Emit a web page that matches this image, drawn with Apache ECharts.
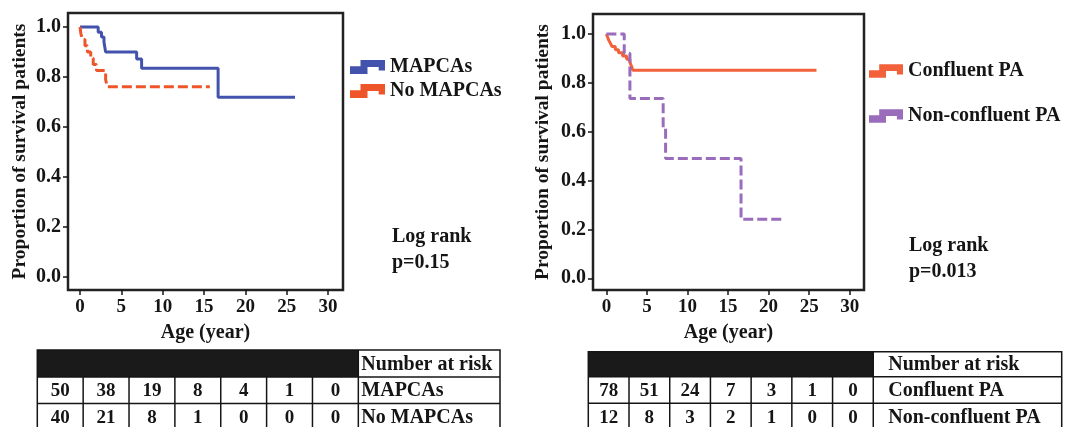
<!DOCTYPE html>
<html><head><meta charset="utf-8">
<script src="https://cdn.jsdelivr.net/npm/echarts@6/dist/echarts.min.js"></script>
<style>html,body{margin:0;padding:0;background:#fff}#c{width:1065px;height:427px}</style>
</head><body><div id="c"></div>
<script>
// ---- data ----
const xTicks = [0, 5, 10, 15, 20, 25, 30];
const yTicks = [0, 0.2, 0.4, 0.6, 0.8, 1.0];
const mapcasT = [0, 2.2, 2.6, 2.9, 3.1, 6.85, 7.45, 16.7, 26.0];
const mapcasS = [1.0, 0.979, 0.96, 0.94, 0.90, 0.872, 0.835, 0.719, 0.719];
const noMapcasT = [0, 0.1, 0.3, 0.6, 0.9, 1.3, 1.6, 2.0, 3.1, 3.3, 15.7];
const noMapcasS = [1.0, 0.975, 0.95, 0.925, 0.90, 0.875, 0.85, 0.826, 0.79, 0.761, 0.761];
const confT = [0, 0.15, 0.3, 0.5, 0.7, 1.1, 1.5, 2.0, 2.5, 2.9, 3.1, 3.25, 25.9];
const confS = [1.0, 0.987, 0.974, 0.962, 0.949, 0.936, 0.923, 0.910, 0.897, 0.884, 0.868, 0.852, 0.852];
const nonConfT = [0, 2.2, 2.9, 7.0, 7.3, 16.6, 22.0];
const nonConfS = [1.0, 0.921, 0.736, 0.613, 0.490, 0.242, 0.242];
const leftNames = ['MAPCAs', 'No MAPCAs'];
const rightNames = ['Confluent PA', 'Non-confluent PA'];
const riskMAPCAs = [50, 38, 19, 8, 4, 1, 0];
const riskNoMAPCAs = [40, 21, 8, 1, 0, 0, 0];
const riskConf = [78, 51, 24, 7, 3, 1, 0];
const riskNonConf = [12, 8, 3, 2, 1, 0, 0];
const riskHeader = 'Number at risk';
const leftStat = ['Log rank', 'p=0.15'];
const rightStat = ['Log rank', 'p=0.013'];
const xTitle = 'Age (year)';
const yTitle = 'Proportion of survival patients';

// ---- styling ----
const FONT = '"Liberation Serif", "DejaVu Serif", serif';
const C_BLUE = '#4353ad', C_RED = '#ee5528', C_ORANGE = '#f2613a', C_PURPLE = '#9a6cbc';
const INK = '#151515';
const ICON = 'path://M0,18L30,18L30,0L100,0L100,30L82,30L82,20L50,20L50,40L0,40Z';

const pairs = (t, s) => t.map((v, i) => [v, s[i]]);

function xAxisCfg(gi, min, max) {
  return {
    type: 'value', gridIndex: gi, min, max,
    name: xTitle, nameLocation: 'middle', nameGap: 33,
    nameTextStyle: {fontFamily: FONT, fontWeight: 'bold', fontSize: 20, color: INK},
    axisLine: {show: false, onZero: false},
    axisTick: {show: true, customValues: xTicks, length: 5, lineStyle: {color: INK, width: 1.5}},
    axisLabel: {customValues: xTicks, margin: 8, fontFamily: FONT, fontWeight: 'bold', fontSize: 19, color: INK},
    splitLine: {show: false}
  };
}
function yAxisCfg(gi, min, max, gap) {
  return {
    type: 'value', gridIndex: gi, min, max,
    name: yTitle, nameLocation: 'middle', nameGap: gap,
    nameTextStyle: {fontFamily: FONT, fontWeight: 'bold', fontSize: 19.5, color: INK},
    axisLine: {show: false, onZero: false},
    axisTick: {show: true, customValues: yTicks, length: 5, lineStyle: {color: INK, width: 1.5}},
    axisLabel: {customValues: yTicks, margin: 7, fontFamily: FONT, fontWeight: 'bold', fontSize: 20, color: INK,
      formatter: v => v.toFixed(1)},
    splitLine: {show: false}
  };
}
function lineSeries(name, gi, t, s, color, dashed) {
  return {
    type: 'line', name, xAxisIndex: gi, yAxisIndex: gi, step: 'end', symbol: 'none',
    color, data: pairs(t, s), animation: false,
    lineStyle: {color, width: 3, type: dashed ? [10, 4] : 'solid'}
  };
}

// ---- tables ----
function table(x0, colW, xEnd, rowYs, rowsData, labels, labelPad) {
  const els = [];
  const nCol = rowsData[0].length;
  const xNumEnd = x0 + colW * nCol;
  const lw = 1.5;
  const ls = {stroke: INK, lineWidth: lw};
  els.push({type: 'rect', shape: {x: x0, y: rowYs[0], width: xNumEnd - x0, height: rowYs[1] - rowYs[0]}, style: {fill: '#1a1a1a'}});
  els.push({type: 'rect', shape: {x: x0, y: rowYs[0], width: xEnd - x0, height: rowYs[rowYs.length - 1] - rowYs[0]}, style: {fill: 'none', stroke: INK, lineWidth: lw}});
  for (let r = 1; r < rowYs.length - 1; r++) {
    els.push({type: 'line', shape: {x1: x0, y1: rowYs[r], x2: xEnd, y2: rowYs[r]}, style: ls});
  }
  for (let k = 1; k <= nCol; k++) {
    const x = x0 + colW * k;
    els.push({type: 'line', shape: {x1: x, y1: k === nCol ? rowYs[0] : rowYs[1], x2: x, y2: rowYs[rowYs.length - 1]}, style: ls});
  }
  const txt = (text, x, y, align) => ({type: 'text', x, y, style: {text, fill: INK, font: 'bold 19px ' + FONT, align, verticalAlign: 'middle'}});
  els.push({type: 'text', x: xNumEnd + labelPad, y: (rowYs[0] + rowYs[1]) / 2 + 1, style: {text: riskHeader, fill: INK, font: 'bold 20px ' + FONT, align: 'left', verticalAlign: 'middle'}});
  rowsData.forEach((row, r) => {
    const yc = (rowYs[r + 1] + rowYs[r + 2]) / 2 + 1;
    row.forEach((v, k) => els.push(txt(String(v), x0 + colW * (k + 0.5), yc, 'center')));
    els.push({type: 'text', x: xNumEnd + labelPad, y: yc, style: {text: labels[r], fill: INK, font: 'bold 20px ' + FONT, align: 'left', verticalAlign: 'middle'}});
  });
  return els;
}
function stat(lines, x, y) {
  return {type: 'text', x, y, style: {text: lines.join('\n'), fill: INK, font: 'bold 20px ' + FONT, lineHeight: 26, align: 'left', verticalAlign: 'middle'}};
}

const chart = echarts.init(document.getElementById('c'), null, {renderer: 'canvas'});
chart.setOption({
  backgroundColor: '#fff',
  animation: false,
  grid: [
    {left: 68, top: 13, width: 275, height: 277, show: true, borderColor: '#222', borderWidth: 2.5, backgroundColor: 'transparent', outerBoundsMode: 'none'},
    {left: 593, top: 14, width: 271, height: 276, show: true, borderColor: '#222', borderWidth: 2.5, backgroundColor: 'transparent', outerBoundsMode: 'none'}
  ],
  xAxis: [xAxisCfg(0, -1.45, 31.8), xAxisCfg(1, -1.65, 31.76)],
  yAxis: [yAxisCfg(0, -0.051, 1.056, 38), yAxisCfg(1, -0.048, 1.082, 40)],
  legend: [
    {orient: 'vertical', left: 345, top: 52, itemWidth: 35, itemHeight: 14, itemGap: 4, icon: ICON, data: leftNames,
      textStyle: {fontFamily: FONT, fontWeight: 'bold', fontSize: 20, color: INK}, selectedMode: false},
    {orient: 'vertical', left: 864, top: 56, itemWidth: 34, itemHeight: 14, itemGap: 25, icon: ICON, data: rightNames,
      textStyle: {fontFamily: FONT, fontWeight: 'bold', fontSize: 20, color: INK}, selectedMode: false}
  ],
  series: [
    lineSeries(leftNames[0], 0, mapcasT, mapcasS, C_BLUE, false),
    lineSeries(leftNames[1], 0, noMapcasT, noMapcasS, C_RED, true),
    lineSeries(rightNames[0], 1, confT, confS, C_ORANGE, false),
    lineSeries(rightNames[1], 1, nonConfT, nonConfS, C_PURPLE, true)
  ],
  graphic: [
    stat(leftStat, 392, 250),
    stat(rightStat, 909, 259),
    ...table(37.3, 45.86, 500, [350, 377, 403.5, 430], [riskMAPCAs, riskNoMAPCAs], leftNames, 3),
    ...table(588.3, 40.71, 1061.7, [351.7, 376.7, 403.3, 430], [riskConf, riskNonConf], rightNames, 15)
  ]
});
</script></body></html>
